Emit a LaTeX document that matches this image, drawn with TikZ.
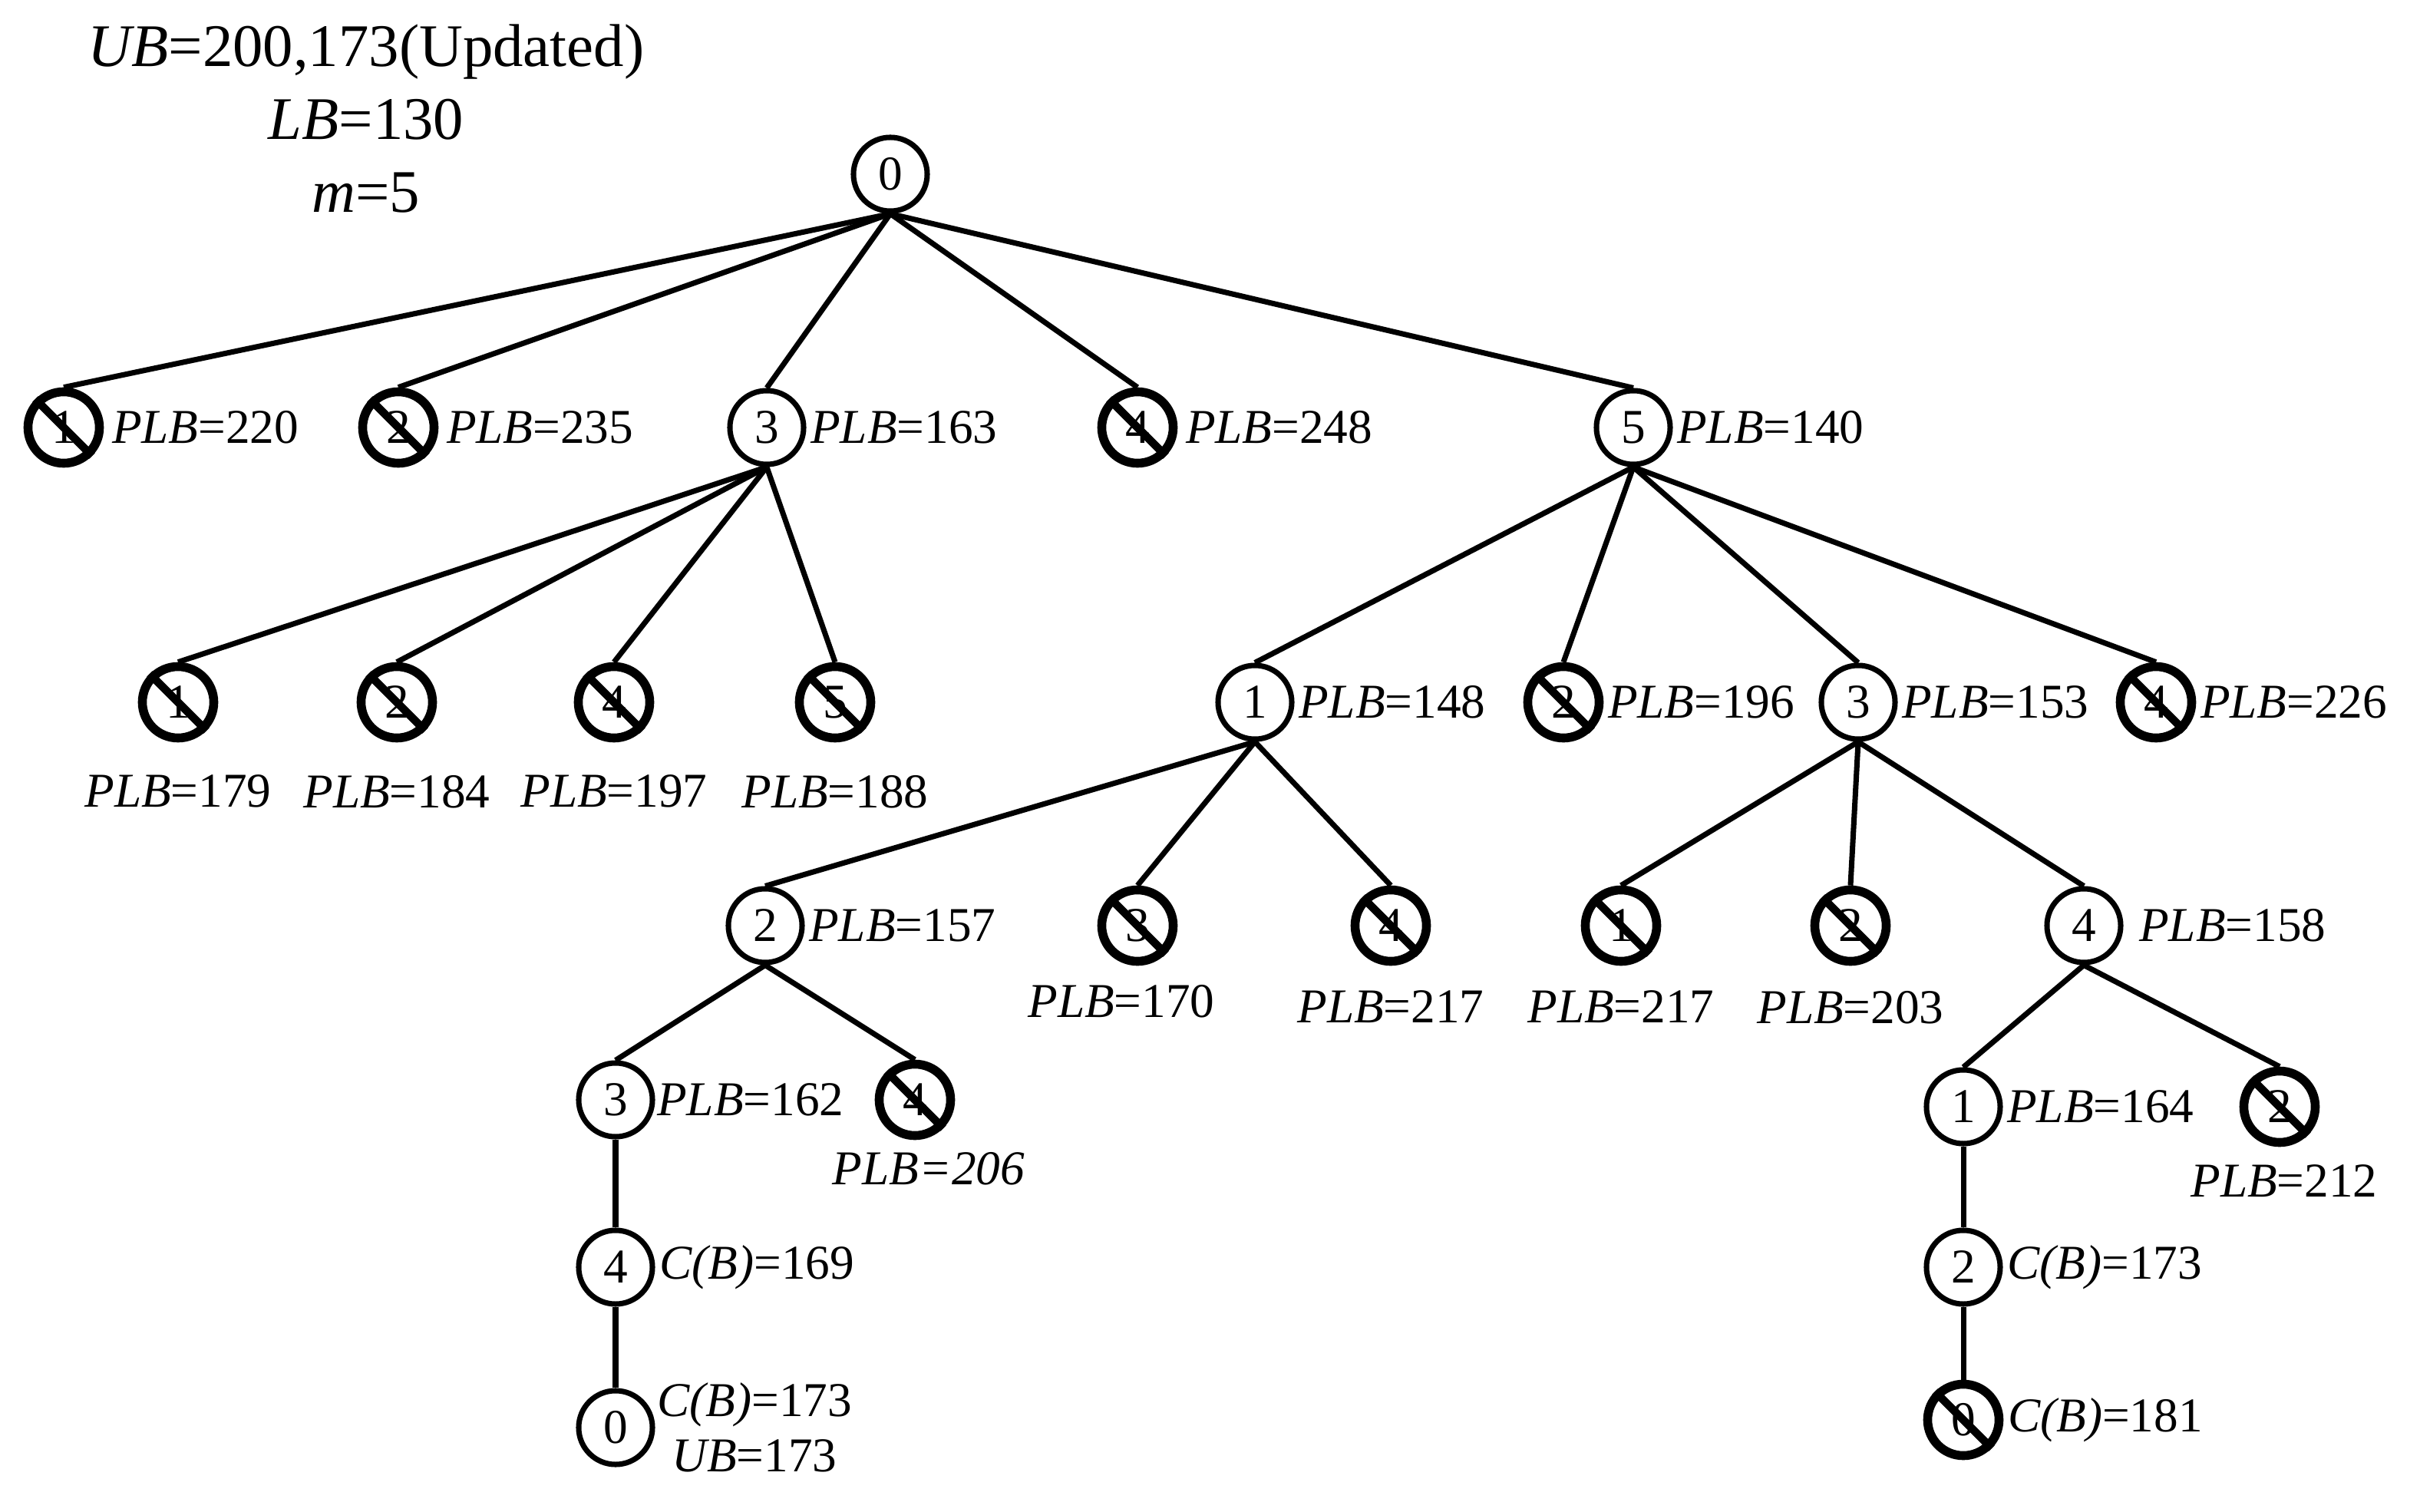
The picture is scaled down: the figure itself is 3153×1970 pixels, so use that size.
\documentclass[tikz,border=0pt]{standalone}
\usepackage{fontspec}
\setmainfont{Liberation Serif}
\usetikzlibrary{positioning}

\begin{document}
\begin{tikzpicture}[
  x=0.01cm, y=-0.01cm,
  font=\fontsize{18pt}{20.5pt}\selectfont,
  vtx/.style={
    draw, circle, line width=2pt,
    minimum size=0.96cm, inner sep=0pt
  },
  cutvtx/.style={
    vtx, line width=3.3pt, minimum size=0.93cm,
    append after command={(\tikzlastnode.135) edge[line width=3pt] (\tikzlastnode.-45)}
  },
  lbl/.style={inner sep=0pt},
  ln/.style={draw, line width=2pt},
]

\useasboundingbox (0,0) rectangle (3153,1970);

\def\yA{227}  \def\yB{557}  \def\yC{915}
\def\yD{1206} \def\yE{1433} \def\yF{1651}

%% ====================================================================
%%  BOUNDS
%% ====================================================================
\node[font=\fontsize{22.4pt}{27pt}\selectfont, align=center] (bounds) at (477,155)
  {\textit{UB}=200,173(Updated)\\\textit{LB}=130\\\textit{m}=5};

%% ====================================================================
%%  LEVEL 0 AND 1
%% ====================================================================
\node[vtx] (n0) at (1160,\yA) {0};

\node[cutvtx] (n1) at (83,\yB)   {1};
\node[cutvtx] (n2) at (519,\yB)  {2};
\node[vtx]    (n3) at (999,\yB)  {3};
\node[cutvtx] (n4) at (1482,\yB) {4};
\node[vtx]    (n5) at (2128,\yB) {5};

\node[lbl, right=0.1cm of n1] {\textit{PLB}=220};
\node[lbl, right=0.1cm of n2] {\textit{PLB}=235};
\node[lbl, right=0.05cm of n3] {\textit{PLB}=163};
\node[lbl, right=0.1cm of n4] {\textit{PLB}=248};
\node[lbl, right=0.05cm of n5] {\textit{PLB}=140};

\draw[ln] (n0.south) -- (n1.north);
\draw[ln] (n0.south) -- (n2.north);
\draw[ln] (n0.south) -- (n3.north);
\draw[ln] (n0.south) -- (n4.north);
\draw[ln] (n0.south) -- (n5.north);

%% ====================================================================
%%  LEVEL 2
%% ====================================================================
\node[cutvtx] (n31) at (232,\yC)  {1};
\node[cutvtx] (n32) at (517,\yC)  {2};
\node[cutvtx] (n34) at (800,\yC)  {4};
\node[cutvtx] (n35) at (1088,\yC) {5};

\node[lbl, below=0.42cm of n31] {\textit{PLB}=179};
\node[lbl, below=0.42cm of n32] {\textit{PLB}=184};
\node[lbl, below=0.42cm of n34] {\textit{PLB}=197};
\node[lbl, below=0.42cm of n35] {\textit{PLB}=188};

\node[vtx]    (n51) at (1635,\yC) {1};
\node[cutvtx] (n52) at (2037,\yC) {2};
\node[vtx]    (n53) at (2421,\yC) {3};
\node[cutvtx] (n54) at (2809,\yC) {4};

\node[lbl, right=0.05cm of n51] {\textit{PLB}=148};
\node[lbl, right=0.05cm of n52] {\textit{PLB}=196};
\node[lbl, right=0.05cm of n53] {\textit{PLB}=153};
\node[lbl, right=0.05cm of n54] {\textit{PLB}=226};

\draw[ln] (n3.south) -- (n31.north);
\draw[ln] (n3.south) -- (n32.north);
\draw[ln] (n3.south) -- (n34.north);
\draw[ln] (n3.south) -- (n35.north);
\draw[ln] (n5.south) -- (n51.north);
\draw[ln] (n5.south) -- (n52.north);
\draw[ln] (n5.south) -- (n53.north);
\draw[ln] (n5.south) -- (n54.north);

%% ====================================================================
%%  LEVEL 3
%% ====================================================================
\node[vtx]    (n512) at (997,\yD)  {2};
\node[cutvtx] (n513) at (1482,\yD) {3};
\node[cutvtx] (n514) at (1812,\yD) {4};
\node[cutvtx] (n531) at (2112,\yD) {1};
\node[cutvtx] (n532) at (2411,\yD) {2};
\node[vtx]    (n534) at (2715,\yD) {4};

\node[lbl, right=0.05cm of n512] {\textit{PLB}=157};
\node[lbl, below=0.24cm of n513, xshift=-0.21cm] {\textit{PLB}=170};
\node[lbl, below=0.32cm of n514] {\textit{PLB}=217};
\node[lbl, below=0.32cm of n531] {\textit{PLB}=217};
\node[lbl, below=0.32cm of n532] {\textit{PLB}=203};
\node[lbl, right=0.2cm of n534] {\textit{PLB}=158};

\draw[ln] (n51.south) -- (n512.north);
\draw[ln] (n51.south) -- (n513.north);
\draw[ln] (n51.south) -- (n514.north);
\draw[ln] (n53.south) -- (n531.north);
\draw[ln] (n53.south) -- (n532.north);
\draw[ln] (n53.south) -- (n534.north);

%% ====================================================================
%%  LEVEL 4
%% ====================================================================
\node[vtx]    (n5123) at (802,\yE)  {3};
\node[cutvtx] (n5124) at (1192,\yE) {4};
\node[vtx]    (n5341) at (2558,1442) {1};
\node[cutvtx] (n5342) at (2970,1442) {2};

\node[lbl, right=0.02cm of n5123] {\textit{PLB}=162};
\node[lbl, below=0.15cm of n5124, xshift=0.18cm] {\textit{PLB=206}};
\node[lbl, right=0.05cm of n5341] {\textit{PLB}=164};
\node[lbl, below=0.23cm of n5342, xshift=0.06cm] {\textit{PLB}=212};

\draw[ln] (n512.south) -- (n5123.north);
\draw[ln] (n512.south) -- (n5124.north);
\draw[ln] (n534.south) -- (n5341.north);
\draw[ln] (n534.south) -- (n5342.north);

%% ====================================================================
%%  LEVEL 5 AND 6
%% ====================================================================
\node[vtx] (n51234) at (802,\yF)  {4};
\node[vtx] (n53412) at (2558,\yF) {2};

\node[lbl, right=0.05cm of n51234] {\textit{C(B)}=169};
\node[lbl, right=0.05cm of n53412] {\textit{C(B)}=173};

\node[vtx]    (n512340) at (802,1860)  {0};
\node[cutvtx] (n534120) at (2558,1850) {0};

\node[lbl, align=center, right=0.02cm of n512340] {\textit{C(B)}=173\\\textit{UB}=173};
\node[lbl, right=0.05cm of n534120] {\textit{C(B)}=181};

\draw[ln] (n5123.south) -- (n51234.north);
\draw[ln] (n51234.south) -- (n512340.north);
\draw[ln] (n5341.south) -- (n53412.north);
\draw[ln] (n53412.south) -- (n534120.north);

\end{tikzpicture}
\end{document}
